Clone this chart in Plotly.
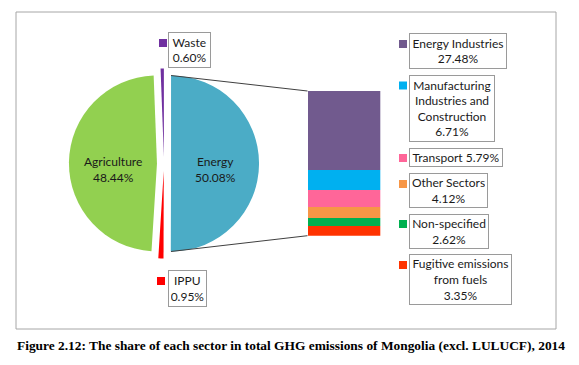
import plotly.graph_objects as go

# ---------------- data ----------------
pie_labels = ["Energy", "IPPU", "Agriculture", "Waste"]
pie_values = [50.08, 0.95, 48.44, 0.60]
pie_colors = ["#4BACC6", "#FF0000", "#92D050", "#7030A0"]

bar_labels = ["Energy Industries", "Manufacturing Industries and Construction",
              "Transport", "Other Sectors", "Non-specified",
              "Fugitive emissions from fuels"]
bar_values = [27.48, 6.71, 5.79, 4.12, 2.62, 3.35]
bar_colors = ["#715A8E", "#00B0F0", "#FF6699", "#F79646", "#00B050", "#FF3300"]
bar_box_text = ["Energy Industries<br>27.48%",
                "Manufacturing<br>Industries and<br>Construction<br>6.71%",
                "Transport 5.79%",
                "Other Sectors<br>4.12%",
                "Non-specified<br>2.62%",
                "Fugitive emissions<br>from fuels<br>3.35%"]

caption = "Figure 2.12: The share of each sector in total GHG emissions of Mongolia (excl. LULUCF), 2014"

# ---------------- geometry helpers ----------------
W, H = 579, 365
def px(x):
    return x / W
def py(y):
    return 1 - y / H

FONT = "Lato"
TXT = "#1a1a1a"
BOX = "#9a9a9a"

PIE_CX, PIE_CY, R, PULL = 164, 163.5, 88, 0.08
half = R * (1 + PULL)

BAR_X0, BAR_X1, BAR_Y0, BAR_Y1 = 307.5, 380.3, 91, 235.7

fig = go.Figure()

fig.add_trace(go.Pie(
    labels=pie_labels, values=pie_values, sort=False, direction="clockwise",
    rotation=0, pull=[PULL] * 4, textinfo="none", hoverinfo="label+percent",
    marker=dict(colors=pie_colors, line=dict(color="white", width=0)),
    domain=dict(x=[px(PIE_CX - half), px(PIE_CX + half)],
                y=[py(PIE_CY + half), py(PIE_CY - half)]),
    showlegend=False,
))

# stacked bar (bottom trace first)
for lab, val, col in reversed(list(zip(bar_labels, bar_values, bar_colors))):
    fig.add_trace(go.Bar(x=[0], y=[val], name=lab, marker=dict(color=col, line=dict(width=0)),
                         width=1, showlegend=False, hoverinfo="name+y"))

total = sum(bar_values)

shapes = []
# outer frame
shapes.append(dict(type="rect", xref="paper", yref="paper",
                   x0=px(16), x1=px(556), y0=py(329), y1=py(12),
                   line=dict(color="#a6a6a6", width=1), layer="below"))
# connector lines from exploded Energy slice to bar
energy_left = PIE_CX + R * PULL
shapes.append(dict(type="line", xref="paper", yref="paper",
                   x0=px(energy_left), y0=py(PIE_CY - R), x1=px(BAR_X0), y1=py(BAR_Y0),
                   line=dict(color="#404040", width=1)))
shapes.append(dict(type="line", xref="paper", yref="paper",
                   x0=px(energy_left), y0=py(PIE_CY + R), x1=px(BAR_X0), y1=py(BAR_Y1),
                   line=dict(color="#404040", width=1)))

annotations = []

def box(text, x0, y0, x1, y1):
    annotations.append(dict(
        text=text, xref="paper", yref="paper", x=px(x0), y=py(y0),
        xanchor="left", yanchor="top", showarrow=False, align="center",
        width=x1 - x0 - 6, height=y1 - y0 - 6, borderpad=2, borderwidth=1,
        bordercolor=BOX, bgcolor="white", font=dict(family=FONT, size=12, color=TXT)))

def square(col, x0, y0):
    shapes.append(dict(type="rect", xref="paper", yref="paper",
                       x0=px(x0), x1=px(x0 + 8), y0=py(y0 + 8), y1=py(y0),
                       fillcolor=col, line=dict(width=0)))

# bar-of-pie labels
bar_boxes = [(409, 33, 507, 69), (409, 75, 495, 142), (409, 148, 503, 167),
             (409, 173, 488, 208), (409, 214, 489, 249), (409, 254, 512, 305)]
sq_y = [40, 81.5, 154, 180, 220, 261]
for t, b, col, sy in zip(bar_box_text, bar_boxes, bar_colors, sq_y):
    box(t, *b)
    square(col, 399, sy)

# small pie slices labels
box(f"{pie_labels[3]}<br>{pie_values[3]:.2f}%", 168, 32, 211, 68)
square(pie_colors[3], 159, 39)
box(f"{pie_labels[1]}<br>{pie_values[1]:.2f}%", 168, 270, 207, 307)
square(pie_colors[1], 157, 277)

# big slice labels
annotations.append(dict(text=f"{pie_labels[2]}<br>{pie_values[2]:.2f}%", xref="paper", yref="paper",
                        x=px(PIE_CX - R * PULL - R * 0.5), y=py(169), showarrow=False,
                        xanchor="center", yanchor="middle",
                        font=dict(family=FONT, size=12, color=TXT)))
annotations.append(dict(text=f"{pie_labels[0]}<br>{pie_values[0]:.2f}%", xref="paper", yref="paper",
                        x=px(PIE_CX + R * PULL + R * 0.5), y=py(169), showarrow=False,
                        xanchor="center", yanchor="middle",
                        font=dict(family=FONT, size=12, color=TXT)))

# caption
annotations.append(dict(text=f"<b>{caption}</b>", xref="paper", yref="paper",
                        x=px(290.5), y=py(345), showarrow=False,
                        xanchor="center", yanchor="middle",
                        font=dict(family="Liberation Serif", size=13.4, color="black")))

fig.update_layout(
    width=W, height=H, margin=dict(l=0, r=0, t=0, b=0),
    paper_bgcolor="white", plot_bgcolor="rgba(0,0,0,0)",
    barmode="stack", bargap=0,
    xaxis=dict(domain=[px(BAR_X0), px(BAR_X1)], range=[-0.5, 0.5], visible=False, fixedrange=True),
    yaxis=dict(domain=[py(BAR_Y1), py(BAR_Y0)], range=[0, total], visible=False, fixedrange=True),
    shapes=shapes, annotations=annotations,
)

fig.write_html("out.html", config={"displayModeBar": False},
               post_script="document.body.style.margin='0';document.body.style.overflow='hidden';")
